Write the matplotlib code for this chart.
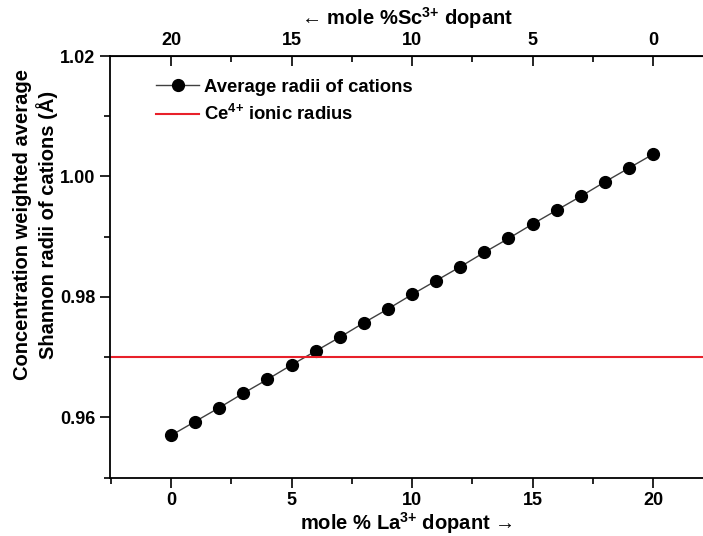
import numpy as np
import matplotlib
matplotlib.use('Agg')
import matplotlib.pyplot as plt
from matplotlib.ticker import MultipleLocator, FixedLocator

plt.rcParams['font.family'] = ['Liberation Sans', 'DejaVu Sans']
plt.rcParams['font.weight'] = 'bold'
plt.rcParams['mathtext.fontset'] = 'custom'
plt.rcParams['mathtext.rm'] = 'Liberation Sans:bold'
plt.rcParams['mathtext.default'] = 'rm'

# mole % La3+ (Sc3+ = 20 - La)
la_mol = [0, 1, 2, 3, 4, 5, 6, 7, 8, 9, 10, 11, 12, 13, 14, 15, 16, 17, 18, 19, 20]
avg_radii = [0.9570, 0.9593, 0.9616, 0.9640, 0.9663, 0.9687, 0.9710, 0.9733,
             0.9757, 0.9780, 0.9804, 0.9827, 0.9850, 0.9874, 0.9897, 0.9921,
             0.9944, 0.9967, 0.9991, 1.0014, 1.0037]
ce_radius = 0.970
top_ticks = [20, 15, 10, 5, 0]

fig = plt.figure(figsize=(7.03, 5.36), dpi=100)
ax = fig.add_axes([110/703, 0.109, 1 - 110/703, 0.7865])

ax.plot(la_mol, avg_radii, '-', color='#404040', lw=1.0, marker='o',
        ms=8.5, mfc='black', mec='black', label='Average radii of cations')
ax.axhline(ce_radius, color='#e8202a', lw=1.5, label='Ce$^{4{+}}$ ionic radius')

ax.set_xlim(-2.53, 22.07)
ax.set_ylim(0.95, 1.02)
ax.spines['right'].set_visible(False)

ax.xaxis.set_major_locator(MultipleLocator(5))
ax.xaxis.set_minor_locator(MultipleLocator(2.5))
ax.yaxis.set_major_locator(MultipleLocator(0.02))
ax.yaxis.set_minor_locator(MultipleLocator(0.01))
ax.yaxis.set_major_formatter(plt.FuncFormatter(lambda v, p: '%.2f' % v))
ax.tick_params(axis='both', which='major', direction='out', length=7, width=1.2,
               labelsize=13, top=False, right=False)
ax.tick_params(axis='both', which='minor', direction='out', length=4, width=1.2,
               top=False, right=False)
for s in ax.spines.values():
    s.set_linewidth(1.3)

ax.set_xlabel('mole % La$^{3{+}}$ dopant →', fontsize=14.5, fontweight='bold', labelpad=1)
# y label sits higher than the axes centre in the original
fig.text(35.5/703, 1 - 225/536, 'Concentration weighted average\nShannon radii of cations (Å)',
         fontsize=14.5, fontweight='bold', rotation=90, ha='center', va='center',
         linespacing=1.25, multialignment='center')

top = ax.secondary_xaxis('top', functions=(lambda x: 20 - x, lambda x: 20 - x))
top.xaxis.set_major_locator(FixedLocator(top_ticks))
top.xaxis.set_minor_locator(FixedLocator([17.5, 12.5, 7.5, 2.5]))
top.tick_params(which='major', direction='in', length=7, width=1.2, labelsize=13, pad=5)
top.tick_params(which='minor', direction='in', length=4, width=1.2)
top.set_xlabel('← mole %Sc$^{3{+}}$ dopant', fontsize=14.5, fontweight='bold', labelpad=5)

leg = ax.legend(loc='upper left', bbox_to_anchor=(0.05, 0.985), frameon=False,
                fontsize=13.3, handlelength=2.3, handletextpad=0.3, labelspacing=0.45)

fig.savefig('out.png', dpi=100)
